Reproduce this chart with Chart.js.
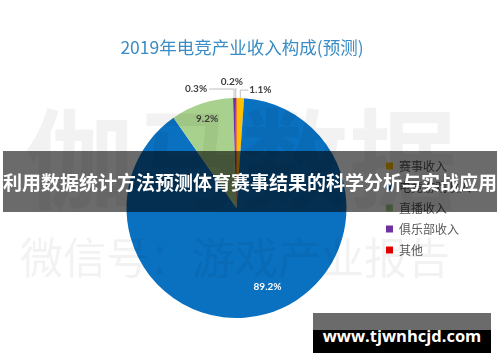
<!DOCTYPE html>
<html>
<head>
<meta charset="utf-8">
<script src="https://cdn.jsdelivr.net/npm/chart.js@4/dist/chart.umd.min.js"></script>
<style>
  body { margin: 0; background: #fff; }
  #wrap { position: relative; width: 500px; height: 362px; overflow: hidden; font-family: "Noto Sans CJK SC", sans-serif; }
  #pie { position: absolute; left: 0; top: 0; }
  #title { position: absolute; left: 0; width: 484px; top: 35px; text-align: center; font-size: 17.5px; line-height: 24px; color: #3a8cc4; }
  .mark { position: absolute; white-space: nowrap; color: rgba(0, 0, 0, 0.05); pointer-events: none; }
  #mark1 { left: 25px; top: 98px; font-size: 108px; line-height: 110px; font-weight: bold; }
  #mark2 { left: 20px; top: 231px; font-size: 43px; line-height: 48px; }
  #banner { position: absolute; left: 3px; width: 494px; top: 151px; height: 61px; background: rgba(0, 0, 0, 0.58);
            color: #fff; font-size: 19px; font-weight: bold; line-height: 61px; text-align: center; white-space: nowrap; }
  #site { position: absolute; left: 313px; top: 313px; width: 178px; height: 40px;
          background: linear-gradient(#6b6b6b 0, #6b6b6b 17px, #000 17px, #000 40px);
          color: #fff; font-family: "Open Sans", sans-serif; font-weight: bold; font-size: 16.5px; line-height: 46px; text-align: center; }
</style>
</head>
<body>
<div id="wrap">
  <canvas id="pie" width="500" height="362"></canvas>
  <div id="title">2019年电竞产业收入构成(预测)</div>
  <div class="mark" id="mark1">伽马数据</div>
  <div class="mark" id="mark2">微信号：游戏产业报告</div>
  <div id="banner">利用数据统计方法预测体育赛事结果的科学分析与实战应用</div>
  <div id="site">www.tjwnhcjd.com</div>
</div>
<script>
// 收入构成 (%)
const categories = ["赛事收入", "电竞游戏收入", "直播收入", "俱乐部收入", "其他"];
const shares = [1.1, 89.2, 9.2, 0.3, 0.2];
const sliceColors = ["#ffc000", "#0a70c0", "#a9d18e", "#7030a0", "#e00000"];

// how each percentage label sits (inside = fraction of radius, outside = offset from slice edge)
const labelStyle = [
    { out: true, dx: 9, dy: -8, align: "left" },
    { out: false, r: 0.77, da: -6, color: "#ffffff" },
    { out: false, r: 0.85, da: 0, color: "#404040" },
    { out: true, dx: -27, dy: -9, align: "right" },
    { out: true, dx: -4, dy: -16, align: "center" }
];

const sliceLabels = {
    id: "sliceLabels",
    afterDatasetsDraw(chart) {
        const ctx = chart.ctx;
        const arcs = chart.getDatasetMeta(0).data;
        ctx.save();
        ctx.font = "bold 10px Lato, sans-serif";
        ctx.textBaseline = "middle";
        arcs.forEach((arc, i) => {
            const p = arc.getProps(["x", "y", "startAngle", "endAngle", "outerRadius"], true);
            const mid = (p.startAngle + p.endAngle) / 2;
            const st = labelStyle[i];
            const text = shares[i].toFixed(1) + "%";
            if (!st.out) {
                const a = mid + st.da * Math.PI / 180;
                ctx.fillStyle = st.color;
                ctx.textAlign = "center";
                ctx.fillText(text, p.x + Math.cos(a) * p.outerRadius * st.r, p.y + Math.sin(a) * p.outerRadius * st.r);
                return;
            }
            const ax = p.x + Math.cos(mid) * p.outerRadius;
            const ay = p.y + Math.sin(mid) * p.outerRadius;
            const lx = ax + st.dx, ly = ay + st.dy;
            ctx.strokeStyle = "#b0b0b0";
            ctx.lineWidth = 0.8;
            ctx.beginPath();
            ctx.moveTo(ax, ay);
            if (st.align === "center") {
                ctx.lineTo(ax, ly + 6);
            } else {
                ctx.lineTo(ax, ly);
                ctx.lineTo(st.align === "left" ? lx - 1 : lx + 2, ly);
            }
            ctx.stroke();
            ctx.fillStyle = "#404040";
            ctx.textAlign = st.align;
            ctx.fillText(text, lx, ly);
        });
        ctx.restore();
    }
};

new Chart(document.getElementById("pie"), {
    type: "pie",
    data: {
        labels: categories,
        datasets: [{
            data: shares,
            backgroundColor: sliceColors,
            borderWidth: 0
        }]
    },
    options: {
        responsive: false,
        animation: false,
        layout: { padding: { top: 98, bottom: 44, left: 96, right: 19 } },
        plugins: {
            legend: {
                position: "right",
                labels: {
                    boxWidth: 7,
                    boxHeight: 7,
                    padding: 9,
                    color: "#595959",
                    font: { size: 12, family: "'Noto Sans CJK SC', sans-serif" }
                }
            },
            tooltip: { enabled: false }
        }
    },
    plugins: [sliceLabels]
});
</script>
</body>
</html>
